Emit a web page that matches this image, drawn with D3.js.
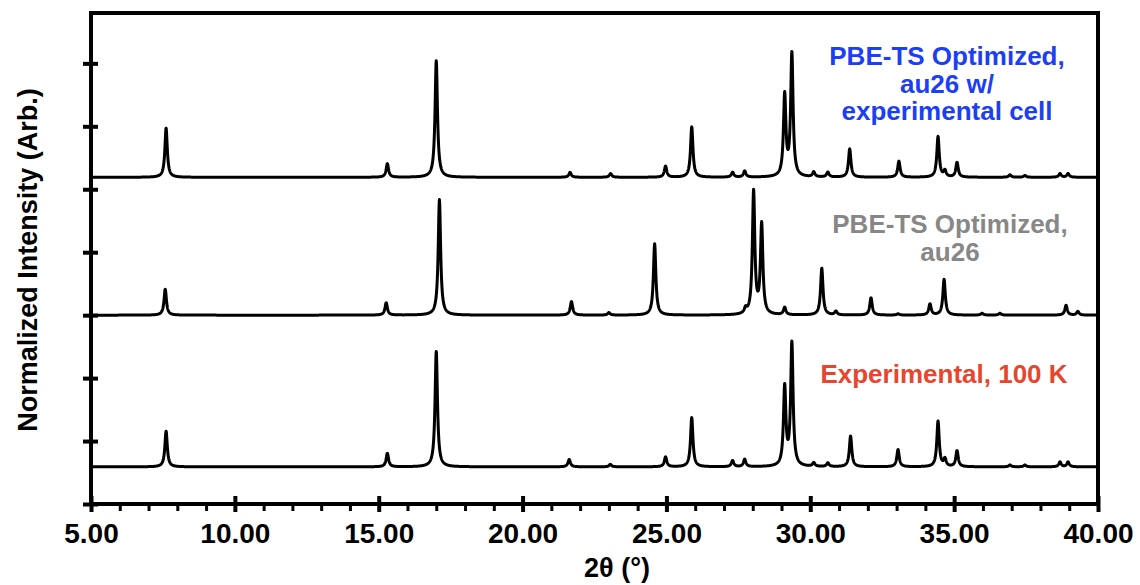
<!DOCTYPE html>
<html>
<head>
<meta charset="utf-8">
<script src="https://cdn.jsdelivr.net/npm/d3@7"></script>
<style>
  body { margin: 0; background: #fff; }
  text { font-family: "Liberation Sans", Arial, Helvetica, sans-serif; font-weight: bold; }
</style>
</head>
<body>
<svg id="chart" width="1140" height="585"></svg>
<script>
// peak lists: 2θ position (deg) and relative height (max = 100)
const expPos    = [7.61, 15.30, 17.00, 21.62, 23.05, 24.97, 25.88, 27.30, 27.72, 29.11, 29.36, 30.12, 30.61, 31.40, 33.05, 34.44, 34.68, 35.10, 36.94, 37.46, 38.68, 38.96];
const expInt    = [29, 11, 94, 6, 2, 8, 40, 5, 6, 64, 100, 3, 3, 25, 14, 37, 6, 13, 1.5, 1.5, 4, 4];

const au26Pos   = [7.58, 15.26, 17.11, 21.70, 23.00, 24.59, 27.75, 28.03, 28.31, 29.11, 30.40, 30.89, 32.11, 33.05, 34.16, 34.65, 35.97, 36.59, 38.89, 39.30];
const au26Int   = [21, 10, 94, 11, 2, 58, 4, 100, 73, 6, 38, 3, 14, 1, 9, 29, 1.5, 1.5, 8, 3];

const cellPos   = [7.61, 15.30, 17.00, 21.65, 23.06, 24.97, 25.88, 27.30, 27.72, 29.11, 29.36, 30.12, 30.61, 31.37, 33.08, 34.44, 34.68, 35.10, 36.94, 37.46, 38.68, 38.96];
const cellInt   = [40, 11, 95, 4, 3, 9, 41, 4, 5, 66, 100, 4, 4, 23, 13, 33, 5, 12, 2, 1.5, 3, 3];

const xTicks = [5, 10, 15, 20, 25, 30, 35, 40];
const xTickLabels = ["5.00", "10.00", "15.00", "20.00", "25.00", "30.00", "35.00", "40.00"];
const yTicks = [0, 1, 2, 3, 4, 5, 6, 7];

const patterns = [
  {pos: expPos,  inten: expInt,  offset: 0.59},
  {pos: au26Pos, inten: au26Int, offset: 3.0},
  {pos: cellPos, inten: cellInt, offset: 5.19}
];

const labels = [
  {lines: ["Experimental, 100 K"], color: "#e8452c", x: 944, y: 383},
  {lines: ["PBE-TS Optimized,", "au26"], color: "#878787", x: 950, y: 233},
  {lines: ["PBE-TS Optimized,", "au26 w/", "experimental cell"], color: "#1c3ff5", x: 947, y: 65}
];

const svg = d3.select("#chart");
const mLeft = 91, mRight = 1098, mTop = 13, mBottom = 504;

const x = d3.scaleLinear().domain([5, 40]).range([mLeft, mRight]);
const y = d3.scaleLinear().domain([0, 7.8]).range([mBottom, mTop]);

// peak profile (Lorentzian) used to draw each peak list
const hw = 0.05;
function profile(p, t) {
  let s = 0;
  for (let i = 0; i < p.pos.length; i++) {
    const d = (t - p.pos[i]) / hw;
    s += p.inten[i] / (1 + d * d);
  }
  return s;
}

const grid = d3.range(5, 40.0001, 0.005);
const line = d3.line().x(d => x(d[0])).y(d => y(d[1]));

patterns.forEach(p => {
  const raw = grid.map(t => profile(p, t));
  const mx = d3.max(raw);
  // normalised: tallest peak spans 2 tick intervals
  const pts = grid.map((t, i) => [t, p.offset + 2 * raw[i] / mx]);
  svg.append("path")
    .attr("d", line(pts))
    .attr("fill", "none")
    .attr("stroke", "#000")
    .attr("stroke-width", 3)
    .attr("stroke-linejoin", "round");
});

// frame
svg.append("rect")
  .attr("x", mLeft).attr("y", mTop)
  .attr("width", mRight - mLeft).attr("height", mBottom - mTop)
  .attr("fill", "none").attr("stroke", "#000").attr("stroke-width", 4);

// x minor ticks
const minor = d3.range(5, 40.5, 1).filter(v => v % 5 !== 0);
svg.append("g")
  .attr("transform", `translate(0,${mBottom})`)
  .call(d3.axisBottom(x).tickValues(minor).tickSize(7).tickFormat(""))
  .call(g => g.select(".domain").remove())
  .call(g => g.selectAll("line").attr("stroke-width", 3));

// x major ticks
svg.append("g")
  .attr("transform", `translate(0,${mBottom})`)
  .call(d3.axisBottom(x).tickValues(xTicks).tickSize(8)
    .tickFormat((d, i) => xTickLabels[i]))
  .call(g => g.select(".domain").remove())
  .call(g => g.selectAll("line").attr("y1", -8).attr("stroke-width", 4))
  .call(g => g.selectAll("text")
    .attr("y", 39).attr("dy", 0)
    .attr("font-size", 28).attr("fill", "#000"));

// y ticks (no labels)
svg.append("g")
  .attr("transform", `translate(${mLeft},0)`)
  .call(d3.axisLeft(y).tickValues(yTicks).tickSize(8).tickFormat(""))
  .call(g => g.select(".domain").remove())
  .call(g => g.selectAll("line").attr("x1", 7).attr("stroke-width", 4));

// axis titles
svg.append("text")
  .attr("x", 617).attr("y", 577)
  .attr("text-anchor", "middle").attr("font-size", 27)
  .text("2θ (°)");

svg.append("text")
  .attr("transform", "translate(37,260) rotate(-90)")
  .attr("text-anchor", "middle").attr("font-size", 27)
  .text("Normalized Intensity (Arb.)");

// series labels
labels.forEach(l => {
  const t = svg.append("text")
    .attr("text-anchor", "middle").attr("font-size", 26)
    .attr("fill", l.color);
  l.lines.forEach((s, i) => {
    t.append("tspan").attr("x", l.x).attr("y", l.y + i * 27.5).text(s);
  });
});
</script>
</body>
</html>
